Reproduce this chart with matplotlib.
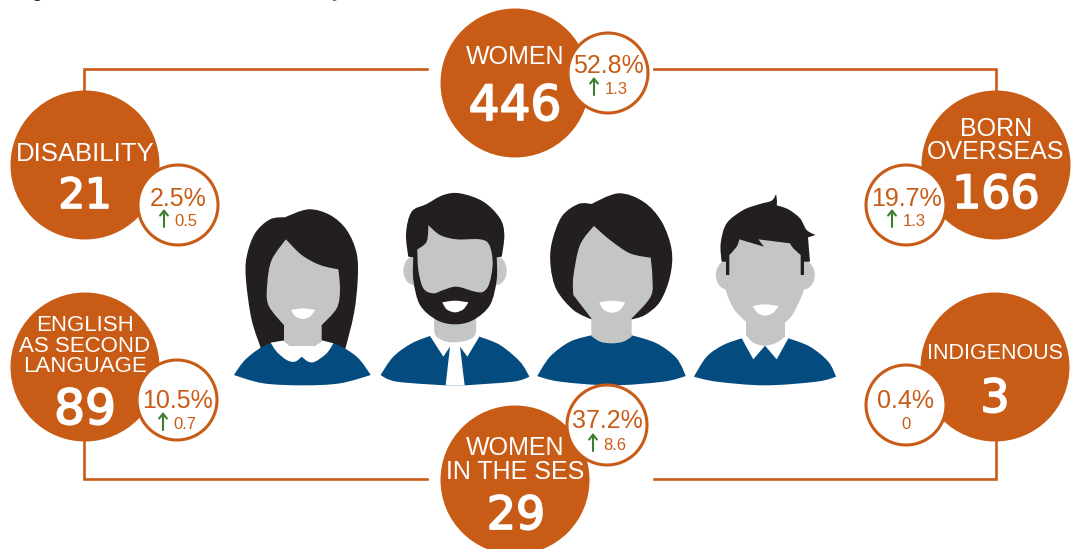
import matplotlib
matplotlib.use('Agg')
from matplotlib import pyplot as plt
from matplotlib import patheffects
from matplotlib.patches import Circle, Ellipse, PathPatch
from matplotlib.path import Path

# values shown in the chart
labels = ['WOMEN', 'DISABILITY', 'BORN\nOVERSEAS', 'ENGLISH\nAS SECOND\nLANGUAGE', 'INDIGENOUS', 'WOMEN\nIN THE SES']
counts = ['446', '21', '166', '89', '3', '29']
shares = ['52.8%', '2.5%', '19.7%', '10.5%', '0.4%', '37.2%']
changes = ['1.3', '0.5', '1.3', '0.7', '0', '8.6']
rising = [True, True, True, True, False, True]

ORANGE = '#c85c17'
GREEN = '#3c7d2e'
NAVY = '#044c7f'
HAIR = '#231f20'
SKIN = '#c4c6c5'

# layout in image pixels
big_xy = [(515, 83), (85, 165), (996, 165), (85, 367), (995, 367), (515, 480)]
big_r = 74.5
small_xy = [(608, 73), (178, 205), (906, 205), (177, 400), (906, 405), (607, 425)]
small_r = 40
label_size = [18, 18.5, 18, 16, 15.5, 18]
label_base = [64, 161, 159, 372, 359, 479]
line_gap = [24, 24, 23, 20.5, 24, 24]
count_size = [35, 30, 33, 35, 33, 33]
count_base = [120, 208, 208, 424, 412, 529]
count_x = [515, 85, 996, 85, 995, 516]
share_base = [73, 206, 206, 408, 408, 428]
change_base = [94, 226, 226, 429, 429, 450]

fig = plt.figure(figsize=(10.74, 5.49), dpi=100)
ax = fig.add_axes([0, 0, 1, 1])
ax.set_xlim(0, 1074)
ax.set_ylim(549, 0)
ax.axis('off')
plt.rcParams['font.family'] = ['Liberation Sans', 'DejaVu Sans']


def shape(pts, ox, oy, color, z=3):
    # closed smooth outline through points traced on a 3x zoom, third item marks a corner
    xy = [(ox + p[0] / 3, oy + p[1] / 3) for p in pts]
    sharp = [len(p) > 2 for p in pts]
    n = len(xy)
    verts = [xy[0]]
    codes = [Path.MOVETO]
    for i in range(n):
        p0, p1, p2, p3 = xy[i - 1], xy[i], xy[(i + 1) % n], xy[(i + 2) % n]
        k1 = 0 if sharp[i] else 1 / 6
        k2 = 0 if sharp[(i + 1) % n] else 1 / 6
        verts += [(p1[0] + (p2[0] - p0[0]) * k1, p1[1] + (p2[1] - p0[1]) * k1),
                  (p2[0] - (p3[0] - p1[0]) * k2, p2[1] - (p3[1] - p1[1]) * k2),
                  p2]
        codes += [Path.CURVE4] * 3
    ax.add_patch(PathPatch(Path(verts, codes), fc=color, ec='none', zorder=z))


# connecting lines
line_kw = dict(color=ORANGE, lw=1.9, solid_joinstyle='miter', zorder=1)
ax.plot([427, 84, 84], [69, 69, 95], **line_kw)
ax.plot([654, 996, 996], [69, 69, 95], **line_kw)
ax.plot([84, 84, 427], [437, 479, 479], **line_kw)
ax.plot([996, 996, 654], [437, 479, 479], **line_kw)

# person 1
ox, oy = 230, 180
shape([(165, 112, 1), (235, 88), (300, 105), (350, 150), (380, 220), (383, 300), (372, 400), (345, 510, 1),
       (95, 510, 1), (65, 420), (48, 300), (50, 230), (75, 160), (120, 118)], ox, oy, HAIR)
shape([(12, 585, 1), (50, 535), (120, 490), (220, 478), (310, 490), (380, 530), (422, 585, 1), (330, 610),
       (220, 616), (100, 610)], ox, oy, NAVY, 4)
shape([(122, 488, 1), (165, 481, 1), (180, 498, 1), (255, 498, 1), (272, 480, 1), (310, 490, 1), (290, 520),
       (255, 545), (235, 545), (215, 530, 1), (195, 545), (170, 540), (140, 515)], ox, oy, 'white', 5)
shape([(168, 178, 1), (215, 225), (270, 255), (325, 268, 1), (330, 330), (320, 385), (275, 435, 1), (275, 485, 1),
       (255, 498, 1), (180, 498, 1), (162, 485, 1), (162, 435, 1), (115, 375), (112, 310), (125, 240)], ox, oy, SKIN, 6)
shape([(183, 390, 1), (220, 385), (255, 390, 1), (240, 410), (218, 417), (195, 408)], ox, oy, 'white', 7)

# person 2
ax.add_patch(Ellipse((230 + 553 / 3, 180 + 272 / 3), 22, 29, fc=SKIN, ec='none', zorder=3))
ax.add_patch(Ellipse((230 + 797 / 3, 180 + 272 / 3), 22, 29, fc=SKIN, ec='none', zorder=3))
shape([(614, 400, 1), (737, 400, 1), (737, 460), (715, 480), (675, 487), (640, 482), (614, 460)], ox, oy, SKIN, 6)
shape([(452, 585, 1), (490, 530), (545, 490), (600, 468, 1), (675, 480, 1), (748, 470, 1), (810, 495), (870, 545),
       (898, 590, 1), (850, 605), (704, 616, 1), (647, 616, 1), (500, 605)], ox, oy, NAVY, 4)
shape([(600, 468, 1), (614, 450, 1), (737, 450, 1), (748, 470, 1), (712, 530, 1), (690, 500, 1), (704, 616, 1),
       (647, 616, 1), (660, 500, 1), (640, 530, 1)], ox, oy, 'white', 5)
shape([(528, 160), (545, 95), (590, 72), (640, 45), (690, 40), (760, 65), (810, 115), (823, 165), (815, 230, 1),
       (800, 232, 1), (800, 300), (780, 375), (730, 420), (675, 433), (620, 420), (570, 375), (550, 300),
       (550, 232, 1), (535, 230, 1)], ox, oy, HAIR, 7)
shape([(595, 135, 1), (630, 165), (680, 178), (750, 178), (778, 195), (788, 250), (778, 310), (760, 335), (735, 335),
       (680, 320), (640, 330), (610, 340), (580, 325), (565, 270), (562, 208, 1), (590, 185)], ox, oy, SKIN, 8)
shape([(637, 367, 1), (675, 362), (715, 367, 1), (700, 388), (675, 397), (650, 388)], ox, oy, 'white', 9)

# person 3
ox, oy = 530, 180
shape([(185, 72, 1), (265, 40), (340, 65), (395, 125), (425, 210), (420, 290), (390, 365), (345, 405), (305, 418, 1),
       (184, 418, 1), (130, 390), (80, 330), (62, 260), (65, 190), (95, 110), (145, 72)], ox, oy, HAIR)
shape([(22, 588, 1), (60, 530), (120, 485), (184, 466, 1), (305, 466, 1), (380, 490), (440, 535), (467, 588, 1),
       (400, 605), (245, 616), (90, 605)], ox, oy, NAVY, 4)
shape([(192, 138, 1), (240, 180), (300, 220), (362, 233, 1), (367, 290), (362, 350), (305, 415, 1), (305, 470, 1),
       (280, 485), (245, 490), (210, 485), (184, 468, 1), (184, 415, 1), (130, 345, 1), (130, 290), (150, 195)],
      ox, oy, SKIN, 6)
shape([(208, 367, 1), (247, 362), (285, 367, 1), (270, 390), (247, 398), (222, 390)], ox, oy, 'white', 7)

# person 4
ax.add_patch(Ellipse((530 + 592 / 3, 180 + 285 / 3), 23, 29, fc=SKIN, ec='none', zorder=3))
ax.add_patch(Ellipse((530 + 820 / 3, 180 + 285 / 3), 23, 29, fc=SKIN, ec='none', zorder=3))
shape([(492, 590, 1), (530, 530), (580, 495), (635, 475, 1), (705, 490, 1), (775, 475, 1), (840, 500), (895, 545),
       (918, 590, 1), (860, 605), (705, 616), (560, 605)], ox, oy, NAVY, 4)
shape([(635, 475, 1), (648, 455, 1), (765, 455, 1), (775, 475, 1), (740, 538, 1), (705, 497, 1), (670, 538, 1)],
      ox, oy, 'white', 5)
shape([(590, 140, 1), (825, 140, 1), (828, 250), (825, 320), (790, 400), (765, 428, 1), (765, 470, 1), (740, 488),
       (705, 497), (670, 488), (648, 465, 1), (648, 425, 1), (610, 385), (585, 320), (582, 250)], ox, oy, SKIN, 6)
shape([(738, 42, 1), (741, 62), (740, 76, 1), (775, 88), (810, 115), (830, 150), (857, 165, 1), (834, 172, 1), (840, 245, 1),
       (822, 245, 1), (822, 285, 1), (812, 285, 1), (812, 225, 1), (790, 205), (780, 190, 1), (685, 178, 1), (702, 200, 1),
       (628, 178, 1), (620, 200), (598, 225, 1), (598, 285, 1), (588, 285, 1), (588, 245, 1), (575, 245, 1), (572, 190),
       (590, 130), (640, 90), (690, 72), (725, 62)], ox, oy, HAIR, 7)
shape([(668, 378, 1), (705, 373), (745, 378, 1), (730, 398), (705, 407), (682, 398)], ox, oy, 'white', 8)

# circles and their text
heavy = [patheffects.withStroke(linewidth=1.3, foreground='white')]
for i in range(len(labels)):
    bx, by = big_xy[i]
    sx, sy = small_xy[i]
    ax.add_patch(Circle((bx, by), big_r, fc=ORANGE, ec='none', zorder=10))
    ax.add_patch(Circle((sx, sy), small_r, fc='white', ec=ORANGE, lw=2.2, zorder=11))
    rows = labels[i].split('\n')
    for j, row in enumerate(rows):
        ax.text(bx, label_base[i] - line_gap[i] * (len(rows) - 1 - j), row, color='white', ha='center', va='baseline',
                fontsize=label_size[i], zorder=12)
    ax.text(count_x[i], count_base[i], counts[i], color='white', ha='center', va='baseline',
            fontsize=count_size[i], family='DejaVu Sans', path_effects=heavy, zorder=12)
    ax.text(sx, share_base[i], shares[i], color=ORANGE, ha='center', va='baseline', fontsize=18, zorder=12)
    if rising[i]:
        ax.annotate('', xy=(sx - 14, change_base[i] - 17), xytext=(sx - 14, change_base[i] + 1),
                    arrowprops=dict(arrowstyle='->,head_length=0.35,head_width=0.28', color=GREEN, lw=1.5,
                                    shrinkA=0, shrinkB=0), zorder=12)
        ax.text(sx + 8, change_base[i], changes[i], color=ORANGE, ha='center', va='baseline', fontsize=12, zorder=12)
    else:
        ax.text(sx, change_base[i], changes[i], color=ORANGE, ha='center', va='baseline', fontsize=12, zorder=12)

# the title is cut off at the top edge, only two descenders show
ax.text(37, -3, 'g', color='#222222', fontsize=13, fontweight='bold', ha='center', va='baseline')
ax.text(337, -3, 'y', color='#666666', fontsize=13, fontweight='bold', ha='center', va='baseline')

fig.savefig('out.png', dpi=100, facecolor='white')
